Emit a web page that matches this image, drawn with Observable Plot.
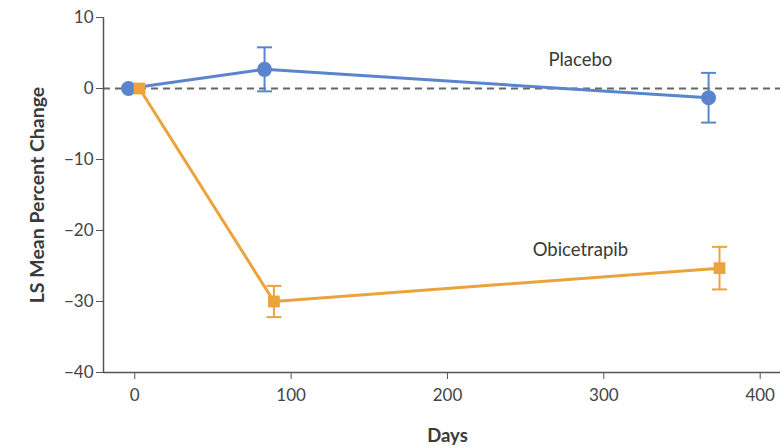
<!DOCTYPE html>
<html>
<head>
<meta charset="utf-8">
<script src="https://cdn.jsdelivr.net/npm/d3@7"></script>
<script src="https://cdn.jsdelivr.net/npm/@observablehq/plot@0.6"></script>
<style>
  body { margin: 0; background: #fff; }
  #chart svg { display: block; }
</style>
</head>
<body>
<div id="chart"></div>
<script>
const placeboDays = [-4, 83, 367];
const placeboMean = [0, 2.7, -1.3];
const placeboErr = [0, 3.1, 3.5];
const obiDays = [3, 89, 374];
const obiMean = [0, -30.0, -25.3];
const obiErr = [0, 2.2, 3.0];
const xTicks = [0, 100, 200, 300, 400];
const yTicks = [10, 0, -10, -20, -30, -40];
const seriesLabels = [
  {name: "Placebo", day: 285, value: 4},
  {name: "Obicetrapib", day: 285, value: -22.8}
];
const axisTitles = [
  {text: "Days", day: 200, value: -40},
  {text: "LS Mean Percent Change", day: -20, value: -15}
];

const blue = "#5a85cc";
const orange = "#eba33c";
const capHalf = 4.8;

const placebo = placeboDays.map((d, i) => ({day: d, mean: placeboMean[i], lo: placeboMean[i] - placeboErr[i], hi: placeboMean[i] + placeboErr[i]}));
const obi = obiDays.map((d, i) => ({day: d, mean: obiMean[i], lo: obiMean[i] - obiErr[i], hi: obiMean[i] + obiErr[i]}));
const placeboE = placebo.filter(d => d.hi > d.lo);
const obiE = obi.filter(d => d.hi > d.lo);
const caps = (arr) => arr.flatMap(d => [{x1: d.day - capHalf, x2: d.day + capHalf, v: d.lo}, {x1: d.day - capHalf, x2: d.day + capHalf, v: d.hi}]);
const fmtY = d => d < 0 ? "\u2212" + Math.abs(d) : String(d);

const chart = Plot.plot({
  width: 780,
  height: 448,
  marginLeft: 103,
  marginRight: 0,
  marginTop: 17,
  marginBottom: 76,
  style: {fontFamily: "Lato, 'Open Sans', sans-serif", fontSize: "17px", color: "#3a3a3a", background: "#fff"},
  x: {type: "linear", domain: [-20, 413], label: null},
  y: {type: "linear", domain: [-40, 10], label: null},
  marks: [
    Plot.ruleY([0], {stroke: "#666", strokeWidth: 2, strokeDasharray: "7,5"}),
    Plot.ruleX([-20], {stroke: "#555", strokeWidth: 1.5}),
    Plot.ruleY([-40], {stroke: "#555", strokeWidth: 1.5}),
    Plot.axisX({ticks: xTicks, tickSize: 7, tickPadding: 9, stroke: "#555", fontSize: 17, fill: "#444", label: null}),
    Plot.axisY({ticks: yTicks, tickSize: 7, tickPadding: 3, stroke: "#555", fontSize: 17, fill: "#444", tickFormat: fmtY, label: null}),
    Plot.ruleX(placeboE, {x: "day", y1: "lo", y2: "hi", stroke: blue, strokeWidth: 2}),
    Plot.ruleX(obiE, {x: "day", y1: "lo", y2: "hi", stroke: orange, strokeWidth: 2}),
    Plot.link(caps(placeboE), {x1: "x1", x2: "x2", y1: "v", y2: "v", stroke: blue, strokeWidth: 2}),
    Plot.link(caps(obiE), {x1: "x1", x2: "x2", y1: "v", y2: "v", stroke: orange, strokeWidth: 2}),
    Plot.line(placebo, {x: "day", y: "mean", stroke: blue, strokeWidth: 3}),
    Plot.line(obi, {x: "day", y: "mean", stroke: orange, strokeWidth: 3}),
    Plot.dot(placebo, {x: "day", y: "mean", r: 7.5, fill: blue, stroke: null}),
    Plot.dot(obi, {x: "day", y: "mean", r: 7.5, fill: orange, stroke: null, symbol: "square2"}),
    Plot.text(seriesLabels, {x: "day", y: "value", text: "name", fill: "#3a3a3a", fontSize: 18.5, textAnchor: "middle"}),
    Plot.text(axisTitles.slice(0, 1), {x: "day", y: "value", text: "text", dy: 64, fontWeight: "bold", fontSize: 18.5, fill: "#3a3a3a"}),
    Plot.text(axisTitles.slice(1), {x: "day", y: "value", text: "text", dx: -66, rotate: -90, fontWeight: "bold", fontSize: 19.5, fill: "#3a3a3a"})
  ]
});
document.getElementById("chart").append(chart);
</script>
</body>
</html>
